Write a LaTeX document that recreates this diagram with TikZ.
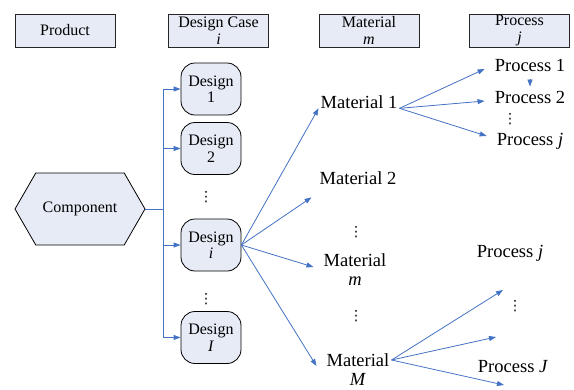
\documentclass[tikz,border=0pt]{standalone}
\usepackage{fontspec}
\setmainfont{Liberation Serif}
\newfontfamily\dotsfont{DejaVu Sans}
\usepackage{xcolor}
\usepackage{tikz}
\usetikzlibrary{arrows.meta,shapes.symbols}

\definecolor{boxfill}{RGB}{230,235,246}
\definecolor{linkblue}{RGB}{68,114,196}

\begin{document}
\begin{tikzpicture}[x=1pt,y=-1pt,
  header/.style={draw=black!85,fill=boxfill,line width=0.8pt,minimum width=100pt,minimum height=33pt,align=center,inner sep=1pt,font=\fontsize{16}{17}\selectfont},
  designbox/.style={draw=black,fill=boxfill,line width=0.8pt,rounded corners=14pt,minimum width=60pt,minimum height=52pt,align=center,inner sep=1pt,font=\fontsize{16}{16.5}\selectfont},
  itemtext/.style={inner sep=2pt,align=center,font=\fontsize{18.5}{19}\selectfont},
  vdotsmark/.style={inner sep=0pt,font=\dotsfont\fontsize{14}{14}\selectfont},
  link/.style={draw=linkblue,line width=0.8pt},
  arr/.style={link,-{Triangle[length=7pt,width=5pt]}}]
  \useasboundingbox (0,0) rectangle (574,389);

  % Draw the column headers
  \node[header] (hprod) at (65,30.5) {Product};
  \node[header] (hcase) at (218.5,30.5) {Design Case\\\textit{i}};
  \node[header] (hmat) at (369,30.5) {Material\\\textit{m}};
  \node[header] (hproc) at (519.5,30.5) {Process\\\textit{j}};

  % Draw the component
  \node[draw=black,fill=boxfill,line width=0.8pt,shape=signal,signal to=west and east,
    signal pointer angle=120,minimum width=130pt,minimum height=72pt,
    font=\fontsize{16}{17}\selectfont] (comp) at (80,209) {Component};

  % Draw the design cases
  \node[designbox] (d1) at (211,89) {Design\\1};
  \node[designbox] (d2) at (211,148.5) {Design\\2};
  \node[vdotsmark] (dv1) at (206,197) {⋮};
  \node[designbox] (di) at (211,245) {Design\\\textit{i}};
  \node[vdotsmark] (dv2) at (206,299) {⋮};
  \node[designbox] (dI) at (211,337.5) {Design\\\textit{I}};

  % Draw the materials
  \node[itemtext] (m1) at (359,102) {Material 1};
  \node[itemtext] (m2) at (358,178) {Material 2};
  \node[vdotsmark] (mv1) at (356,232) {⋮};
  \node[itemtext] (mm) at (355,270) {Material\\\textit{m}};
  \node[vdotsmark] (mv2) at (356,316) {⋮};
  \node[itemtext] (mM) at (358,370) {Material\\\textit{M}};

  % Draw the processes
  \node[itemtext] (p1) at (530,65) {Process 1};
  \node[itemtext] (p2) at (530,97) {Process 2};
  \node[vdotsmark] (pv1) at (510,119) {⋮};
  \node[itemtext] (pj) at (530,141) {Process \textit{j}};
  \node[itemtext] (pj2) at (510,253) {Process \textit{j}};
  \node[vdotsmark] (pv2) at (515,306) {⋮};
  \node[itemtext] (pJ) at (513,367) {Process \textit{J}};
  \coordinate (t1) at (503,290);
  \coordinate (t2) at (496,337);
  \coordinate (t3) at (504,385);

  % Component to design cases
  \coordinate (spine) at (163,209);
  \draw[link] (comp.east) -- (spine);
  \draw[link] (spine |- d1.west) -- (spine |- dI.west);
  \foreach \d in {d1,d2,di,dI}
    \draw[arr] (spine |- \d.west) -- (\d.west);

  % Design case to materials
  \draw[arr] (di.east) -- (m1.base west);
  \draw[arr] (di.east) -- ([xshift=-6pt,yshift=-13pt]m2.base west);
  \draw[arr] (di.east) -- ([xshift=-8pt,yshift=3pt]mm.west);
  \draw[arr] (di.east) -- ([xshift=-8pt,yshift=4pt]mM.west);

  % Materials to processes
  \draw[arr] (m1.base east) -- ([xshift=-8pt,yshift=-4pt]p1.west);
  \draw[arr] (m1.base east) -- ([xshift=-8pt,yshift=-4pt]p2.west);
  \draw[arr] (m1.base east) -- ([xshift=-8pt,yshift=5pt]pj.west);
  \draw[arr,shorten <=6pt,shorten >=2pt] (p1.south) -- (p2.north);
  \draw[arr] ([yshift=10pt]mM.east) -- (t1);
  \draw[arr] ([yshift=10pt]mM.east) -- (t2);
  \draw[arr] ([yshift=10pt]mM.east) -- (t3);
\end{tikzpicture}
\end{document}
